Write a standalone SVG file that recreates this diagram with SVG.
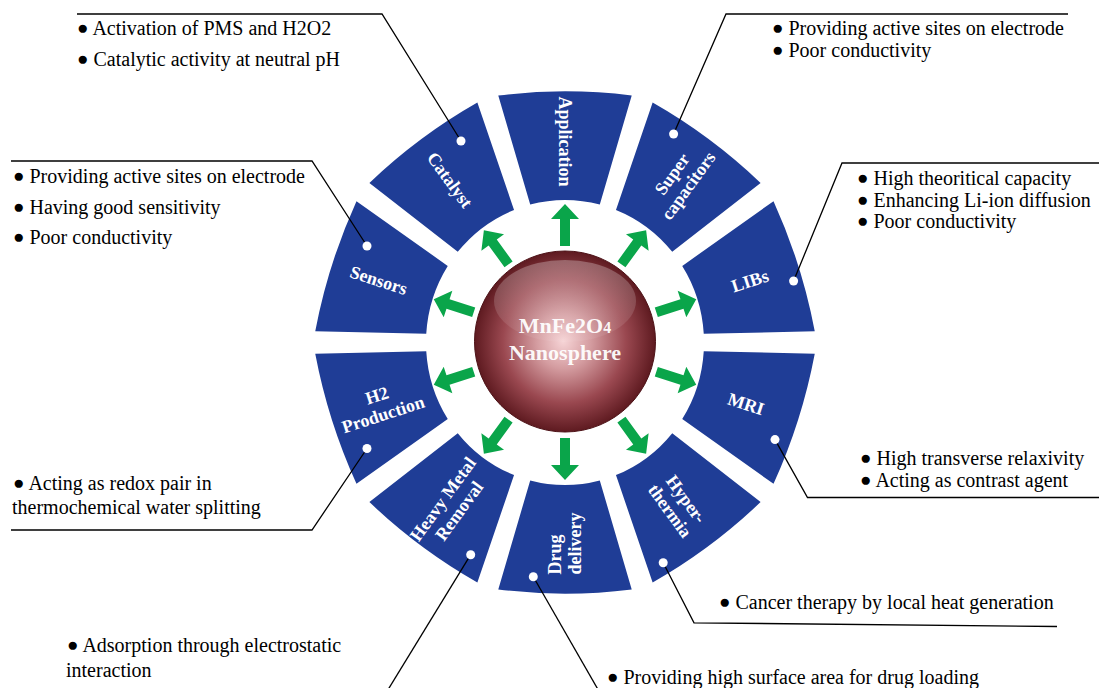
<svg xmlns="http://www.w3.org/2000/svg" width="1099" height="688" viewBox="0 0 1099 688">
<defs>
<style>
.seg{fill:#1f3d96}
.lbl{font-family:"Liberation Serif","Times New Roman",serif;font-weight:bold;font-size:18px;fill:#fff;text-anchor:middle}
.ctr{font-family:"Liberation Serif","Times New Roman",serif;font-weight:bold;font-size:22px;fill:#fff;fill-opacity:0.95;text-anchor:middle}
.desc{font-family:"Liberation Serif","Times New Roman",serif;font-size:20px;fill:#000}
.b{font-size:19px}
.lead{fill:none;stroke:#000;stroke-width:1.3}
.dot{fill:#fff}
.arr{fill:#0aa54a}
</style>
<path id="seg" d="M -66.73,-240.93 A 549 549 0 0 1 66.73,-240.93 L 34.79,-134.58 A 139 139 0 0 0 -34.79,-134.58 Z"/>
<polygon id="arrow" points="-5,-96 5,-96 5,-123 14,-123 0,-138 -14,-123 -5,-123"/>
<radialGradient id="sph" cx="0.5" cy="0.5" r="0.5" fx="0.49" fy="0.5">
<stop offset="0" stop-color="#f6d4d6"/>
<stop offset="0.3" stop-color="#d49ca0"/>
<stop offset="0.68" stop-color="#9a4850"/>
<stop offset="1" stop-color="#5e1a20"/>
</radialGradient>
<linearGradient id="hl" x1="0" y1="0" x2="0" y2="1">
<stop offset="0" stop-color="#fff" stop-opacity="0.28"/>
<stop offset="1" stop-color="#fff" stop-opacity="0.05"/>
</linearGradient>
</defs>
<rect width="1099" height="688" fill="#fff"/>

<g id="arrows" class="arr">
<use href="#arrow" transform="translate(565 342) rotate(0)"/>
<use href="#arrow" transform="translate(565 342) rotate(36)"/>
<use href="#arrow" transform="translate(565 342) rotate(72)"/>
<use href="#arrow" transform="translate(565 342) rotate(108)"/>
<use href="#arrow" transform="translate(565 342) rotate(144)"/>
<use href="#arrow" transform="translate(565 342) rotate(180)"/>
<use href="#arrow" transform="translate(565 342) rotate(216)"/>
<use href="#arrow" transform="translate(565 342) rotate(252)"/>
<use href="#arrow" transform="translate(565 342) rotate(288)"/>
<use href="#arrow" transform="translate(565 342) rotate(324)"/>
</g>

<g id="node-center">
<circle cx="565" cy="341.5" r="90.5" fill="url(#sph)" stroke="#4d1217" stroke-width="1"/>
<ellipse cx="565" cy="301" rx="71" ry="41" fill="url(#hl)"/>
<text class="ctr" x="565" y="333">MnFe2O<tspan font-size="16">4</tspan></text>
<text class="ctr" x="565" y="360">Nanosphere</text>
</g>

<g id="node-application">
<use href="#seg" class="seg" transform="translate(565 342.5) scale(1 1.025) rotate(0)"/>
<text class="lbl" transform="translate(565 141.6) rotate(90)" y="6">Application</text>
</g>

<g id="node-supercapacitors">
<use href="#seg" class="seg" transform="translate(565 342.5) scale(1 1.025) rotate(36)"/>
<text class="lbl" transform="translate(680.2 180) rotate(-54)"><tspan x="0" y="-4">Super</tspan><tspan x="0" y="16">capacitors</tspan></text>
<text class="desc" x="772" y="35"><tspan class="b" dy="-1">●</tspan><tspan dy="1"> Providing active sites on electrode</tspan></text>
<text class="desc" x="772" y="57"><tspan class="b" dy="-1">●</tspan><tspan dy="1"> Poor conductivity</tspan></text>
</g>

<g id="node-libs">
<use href="#seg" class="seg" transform="translate(565 342.5) scale(1 1.025) rotate(72)"/>
<text class="lbl" transform="translate(750 281) rotate(-18)" y="6">LIBs</text>
<text class="desc" x="857" y="185"><tspan class="b" dy="-1">●</tspan><tspan dy="1"> High theoritical capacity</tspan></text>
<text class="desc" x="857" y="206.5"><tspan class="b" dy="-1">●</tspan><tspan dy="1"> Enhancing Li-ion diffusion</tspan></text>
<text class="desc" x="857" y="228"><tspan class="b" dy="-1">●</tspan><tspan dy="1"> Poor conductivity</tspan></text>
</g>

<g id="node-mri">
<use href="#seg" class="seg" transform="translate(565 342.5) scale(1 1.025) rotate(108)"/>
<text class="lbl" transform="translate(746 404) rotate(18)" y="6">MRI</text>
<text class="desc" x="860" y="465"><tspan class="b" dy="-1">●</tspan><tspan dy="1"> High transverse relaxivity</tspan></text>
<text class="desc" x="860" y="487"><tspan class="b" dy="-1">●</tspan><tspan dy="1"> Acting as contrast agent</tspan></text>
</g>

<g id="node-hyperthermia">
<use href="#seg" class="seg" transform="translate(565 342.5) scale(1 1.025) rotate(144)"/>
<text class="lbl" transform="translate(678 505) rotate(54)"><tspan x="0" y="-4">Hyper-</tspan><tspan x="0" y="16">thermia</tspan></text>
<text class="desc" x="719" y="609"><tspan class="b" dy="-1">●</tspan><tspan dy="1"> Cancer therapy by local heat generation</tspan></text>
</g>

<g id="node-drug-delivery">
<use href="#seg" class="seg" transform="translate(565 342.5) scale(1 1.025) rotate(180)"/>
<text class="lbl" transform="translate(565 543.4) rotate(-90)" style="text-anchor:start"><tspan x="-31" y="-4">Drug</tspan><tspan x="-31" y="16">delivery</tspan></text>
<text class="desc" x="607" y="684"><tspan class="b" dy="-1">●</tspan><tspan dy="1"> Providing high surface area for drug loading</tspan></text>
</g>

<g id="node-heavy-metal">
<use href="#seg" class="seg" transform="translate(565 342.5) scale(1 1.025) rotate(216)"/>
<text class="lbl" transform="translate(451 505) rotate(-54)"><tspan x="0" y="-4">Heavy Metal</tspan><tspan x="0" y="16">Removal</tspan></text>
<text class="desc" x="67" y="652"><tspan class="b" dy="-1">●</tspan><tspan dy="1"> Adsorption through electrostatic</tspan></text>
<text class="desc" x="66" y="677">interaction</text>
</g>

<g id="node-h2-production">
<use href="#seg" class="seg" transform="translate(565 342.5) scale(1 1.025) rotate(252)"/>
<text class="lbl" transform="translate(380 405) rotate(-18)"><tspan x="0" y="-4">H2</tspan><tspan x="0" y="16">Production</tspan></text>
<text class="desc" x="13" y="490"><tspan class="b" dy="-1">●</tspan><tspan dy="1"> Acting as redox pair in</tspan></text>
<text class="desc" x="12" y="514">thermochemical water splitting</text>
</g>

<g id="node-sensors">
<use href="#seg" class="seg" transform="translate(565 342.5) scale(1 1.025) rotate(288)"/>
<text class="lbl" transform="translate(378.6 280.4) rotate(18)" y="6">Sensors</text>
<text class="desc" x="13" y="183"><tspan class="b" dy="-1">●</tspan><tspan dy="1"> Providing active sites on electrode</tspan></text>
<text class="desc" x="13" y="213.5"><tspan class="b" dy="-1">●</tspan><tspan dy="1"> Having good sensitivity</tspan></text>
<text class="desc" x="13" y="243.5"><tspan class="b" dy="-1">●</tspan><tspan dy="1"> Poor conductivity</tspan></text>
</g>

<g id="node-catalyst">
<use href="#seg" class="seg" transform="translate(565 342.5) scale(1 1.025) rotate(324)"/>
<text class="lbl" transform="translate(449.8 180) rotate(54)" y="6">Catalyst</text>
<text class="desc" x="77" y="35"><tspan class="b" dy="-1">●</tspan><tspan dy="1"> Activation of PMS and H2O2</tspan></text>
<text class="desc" x="77" y="66"><tspan class="b" dy="-1">●</tspan><tspan dy="1"> Catalytic activity at neutral pH</tspan></text>
</g>

<g id="connectors" class="lead">
<polyline points="77,14 382,14 461,141"/>
<polyline points="11,161 312,161 367,246"/>
<polyline points="1068,14 726,14 673.6,134"/>
<polyline points="1099,163 842,163 793.6,281"/>
<polyline points="775,439.6 807.5,497.5 1099,497.5"/>
<polyline points="663.2,562.8 694,622.8 1057,626.5"/>
<polyline points="533.3,576.7 600,693"/>
<polyline points="470.7,554.7 386,693"/>
<polyline points="367,448.5 312,530 11,530"/>
</g>

<g id="anchors" class="dot">
<circle cx="461" cy="141" r="4.5"/>
<circle cx="367" cy="246" r="4.5"/>
<circle cx="673.6" cy="134" r="4.5"/>
<circle cx="793.6" cy="281" r="4.5"/>
<circle cx="775" cy="439.6" r="4.5"/>
<circle cx="663.2" cy="562.8" r="4.5"/>
<circle cx="533.3" cy="576.7" r="4.5"/>
<circle cx="470.7" cy="554.7" r="4.5"/>
<circle cx="367" cy="448.5" r="4.5"/>
</g>
</svg>
